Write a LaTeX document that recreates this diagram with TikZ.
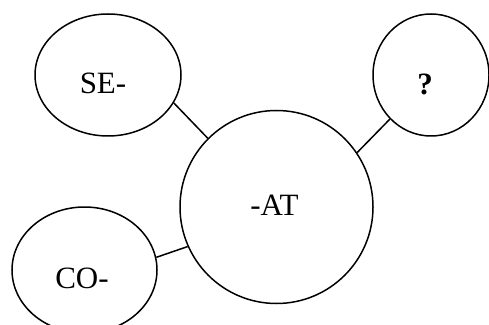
\documentclass[tikz,border=0pt]{standalone}
\usepackage{fontspec}
\setmainfont{Liberation Serif}
\usetikzlibrary{shapes.geometric}
\begin{document}
\begin{tikzpicture}[x=1pt,y=1pt,
  bubble/.style={draw, line width=1.5pt, ellipse, inner sep=0pt},
  lbl/.style={inner sep=0pt, font=\fontsize{31}{31}\selectfont},
  link/.style={line width=1.5pt}]
\useasboundingbox (0,0) rectangle (489,324);
\clip (0,0) rectangle (489,324);
% morpheme bubbles
\node[bubble, minimum width=146pt, minimum height=122pt] (se) at (108,249) {};
\node[bubble, minimum width=116pt, minimum height=122pt] (q) at (431,249) {};
\node[bubble, circle, minimum size=193pt] (at) at (276.5,117) {};
\node[bubble, minimum width=145pt, minimum height=126pt] (co) at (84.5,54) {};
% labels
\node[lbl] (seL) at (103,241) {SE-};
\node[lbl, font=\fontsize{31}{31}\selectfont\bfseries] (qL) at (425,239.5) {?};
\node[lbl] (atL) at (274.5,119) {-AT};
\node[lbl] (coL) at (82,46) {CO-};
% connections to the stem
\draw[link] (se.-23) -- (at.135);
\draw[link] (q.227) -- (at.34);
\draw[link] (co.10) -- (at.204);
\end{tikzpicture}
\end{document}
